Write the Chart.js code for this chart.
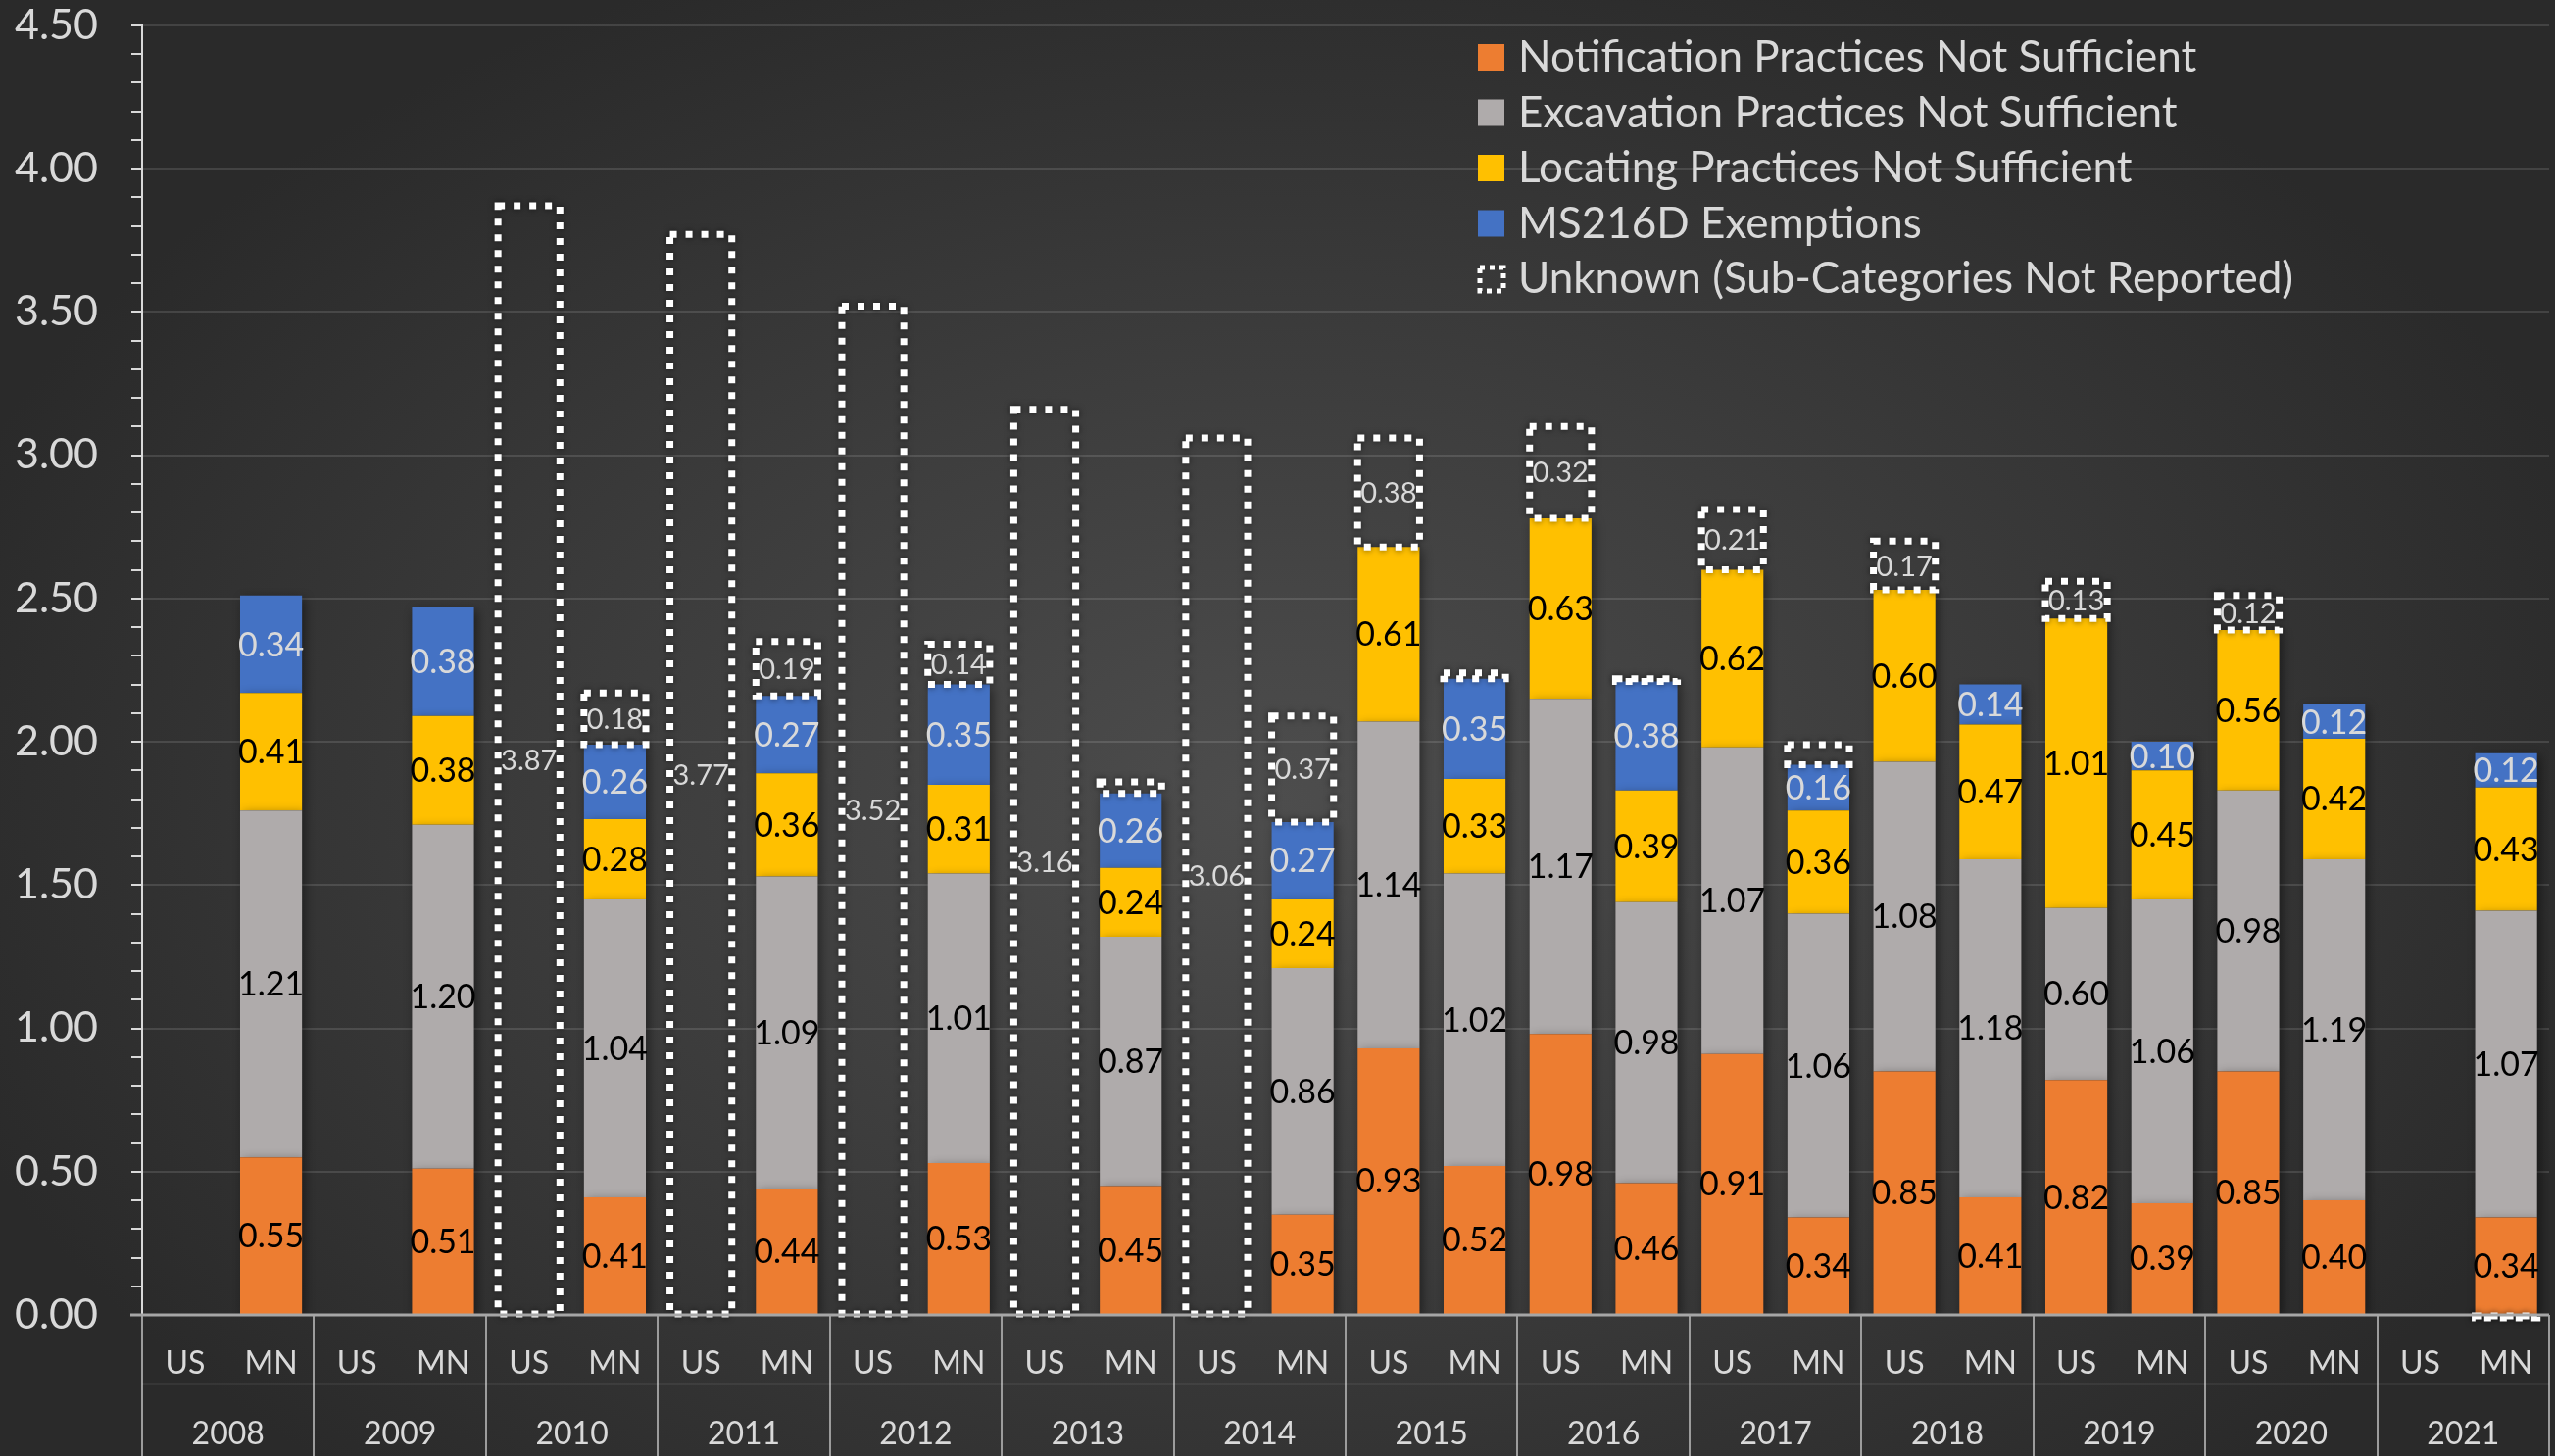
<!DOCTYPE html>
<html>
<head>
<meta charset="utf-8">
<title>Damage causes per 1,000 locates</title>
<script src="https://cdn.jsdelivr.net/npm/chart.js@4.4.0/dist/chart.umd.min.js"></script>
<style>
  html, body { margin: 0; padding: 0; }
  body {
    width: 2607px; height: 1486px; overflow: hidden;
    background: radial-gradient(ellipse 55% 62% at 50% 55%, #4d4d4d 0%, #3c3c3c 50%, #2a2a2a 100%);
  }
  #wrap { position: relative; width: 2607px; height: 1486px; }
</style>
</head>
<body>
<div id="wrap"><canvas id="myChart"></canvas></div>
<script>
// categories
const years = ['2008', '2009', '2010', '2011', '2012', '2013', '2014',
               '2015', '2016', '2017', '2018', '2019', '2020', '2021'];
const regions = ['US', 'MN'];

// series values, one entry per year
const notificationUS = [null, null, null, null, null, null, null, 0.93, 0.98, 0.91, 0.85, 0.82, 0.85, null];
const notificationMN = [0.55, 0.51, 0.41, 0.44, 0.53, 0.45, 0.35, 0.52, 0.46, 0.34, 0.41, 0.39, 0.40, 0.34];
const excavationUS   = [null, null, null, null, null, null, null, 1.14, 1.17, 1.07, 1.08, 0.60, 0.98, null];
const excavationMN   = [1.21, 1.20, 1.04, 1.09, 1.01, 0.87, 0.86, 1.02, 0.98, 1.06, 1.18, 1.06, 1.19, 1.07];
const locatingUS     = [null, null, null, null, null, null, null, 0.61, 0.63, 0.62, 0.60, 1.01, 0.56, null];
const locatingMN     = [0.41, 0.38, 0.28, 0.36, 0.31, 0.24, 0.24, 0.33, 0.39, 0.36, 0.47, 0.45, 0.42, 0.43];
const exemptionsUS   = [null, null, null, null, null, null, null, null, null, null, null, null, null, null];
const exemptionsMN   = [0.34, 0.38, 0.26, 0.27, 0.35, 0.26, 0.27, 0.35, 0.38, 0.16, 0.14, 0.10, 0.12, 0.12];
const unknownUS      = [null, null, 3.87, 3.77, 3.52, 3.16, 3.06, 0.38, 0.32, 0.21, 0.17, 0.13, 0.12, null];
const unknownMN      = [null, null, 0.18, 0.19, 0.14, 0.04, 0.37, 0.02, 0.01, 0.07, null, null, null, -0.01];

// y axis
const yMin = 0;
const yMax = 4.5;
const yMajorStep = 0.5;
const yMinorStep = 0.1;

const FONT = 'Lato, "Open Sans", sans-serif';
const TEXT = '#d9d9d9';

// US, MN, US, MN ... along the x axis
const labels = [];
years.forEach(() => regions.forEach(r => labels.push(r)));
const pair = (us, mn) => {
  const out = [];
  years.forEach((y, i) => { out.push(us[i]); out.push(mn[i]); });
  return out;
};

const isMajor = v => Math.abs(v / yMajorStep - Math.round(v / yMajorStep)) < 1e-6;

const datasets = [
  { label: 'Notification Practices Not Sufficient', data: pair(notificationUS, notificationMN), backgroundColor: '#ed7d31', textColor: '#000' },
  { label: 'Excavation Practices Not Sufficient', data: pair(excavationUS, excavationMN), backgroundColor: '#afabab', textColor: '#000' },
  { label: 'Locating Practices Not Sufficient', data: pair(locatingUS, locatingMN), backgroundColor: '#ffc000', textColor: '#000' },
  { label: 'MS216D Exemptions', data: pair(exemptionsUS, exemptionsMN), backgroundColor: '#4472c4', textColor: TEXT },
  { label: 'Unknown (Sub-Categories Not Reported)', data: pair(unknownUS, unknownMN), backgroundColor: 'rgba(0,0,0,0)', textColor: TEXT, dashed: true, small: true }
];
datasets.forEach(d => { d.stack = 'all'; d.borderWidth = 0; d.categoryPercentage = 1; d.barPercentage = 0.72; });

// soft shadow under the bars, like the office chart style
const barShadow = {
  id: 'barShadow',
  beforeDatasetsDraw(chart) {
    const ctx = chart.ctx;
    ctx.save();
    ctx.shadowColor = 'rgba(0,0,0,0.45)';
    ctx.shadowBlur = 10;
    ctx.shadowOffsetX = 3;
    ctx.shadowOffsetY = 3;
  },
  afterDatasetsDraw(chart) {
    chart.ctx.restore();
  }
};

// dashed outline for unknown + value labels in the middle of each segment
const segmentLabels = {
  id: 'segmentLabels',
  afterDatasetsDraw(chart) {
    const ctx = chart.ctx;
    ctx.save();
    chart.data.datasets.forEach((ds, di) => {
      if (!ds.dashed) return;
      const meta = chart.getDatasetMeta(di);
      meta.data.forEach((bar, i) => {
        if (ds.data[i] == null) return;
        const p = bar.getProps(['x', 'y', 'base', 'width'], true);
        ctx.shadowColor = 'rgba(0,0,0,0.6)';
        ctx.shadowBlur = 6;
        ctx.strokeStyle = '#ffffff';
        ctx.lineWidth = 7;
        ctx.setLineDash([7, 9]);
        ctx.strokeRect(p.x - p.width / 2, p.y, p.width, p.base - p.y);
      });
    });
    ctx.restore();

    ctx.save();
    ctx.textAlign = 'center';
    ctx.textBaseline = 'middle';
    chart.data.datasets.forEach((ds, di) => {
      const meta = chart.getDatasetMeta(di);
      ctx.font = (ds.small ? 29 : 34) + 'px ' + FONT;
      ctx.fillStyle = ds.textColor;
      meta.data.forEach((bar, i) => {
        const v = ds.data[i];
        if (v == null || Math.abs(v) < 0.1) return;
        const p = bar.getProps(['x', 'y', 'base'], true);
        ctx.fillText(v.toFixed(2), p.x, (p.y + p.base) / 2 + 1);
      });
    });
    ctx.restore();
  }
};

// year separators under the axis and the 0 baseline
const yearDividers = {
  id: 'yearDividers',
  afterDraw(chart) {
    const { ctx, chartArea, scales } = chart;
    const x = scales.x;
    const step = x.getPixelForValue(1) - x.getPixelForValue(0);
    const left = x.getPixelForValue(0) - step / 2;
    ctx.save();
    ctx.strokeStyle = '#9c9c9c';
    ctx.lineWidth = 2;
    for (let i = 0; i <= years.length; i++) {
      const px = Math.round(left + i * regions.length * step);
      ctx.beginPath();
      ctx.moveTo(px, chartArea.bottom);
      ctx.lineTo(px, chart.height);
      ctx.stroke();
    }
    ctx.strokeStyle = 'rgba(255,255,255,0.06)';
    ctx.beginPath();
    ctx.moveTo(left, chartArea.bottom + 71);
    ctx.lineTo(left + labels.length * step, chartArea.bottom + 71);
    ctx.stroke();
    ctx.strokeStyle = '#a6a6a6';
    ctx.lineWidth = 3;
    ctx.beginPath();
    ctx.moveTo(chartArea.left - 12, chartArea.bottom);
    ctx.lineTo(chartArea.right, chartArea.bottom);
    ctx.stroke();
    ctx.restore();
  }
};

// legend drawn inside the plot, top right
const cornerLegend = {
  id: 'cornerLegend',
  afterDraw(chart) {
    const ctx = chart.ctx;
    ctx.save();
    ctx.font = '44px ' + FONT;
    ctx.textBaseline = 'middle';
    ctx.textAlign = 'left';
    chart.data.datasets.forEach((ds, i) => {
      const cy = 58 + i * 56.5;
      if (ds.dashed) {
        ctx.strokeStyle = '#ffffff';
        ctx.lineWidth = 5;
        ctx.setLineDash([5, 5]);
        ctx.strokeRect(1510, cy - 11, 24, 24);
        ctx.setLineDash([]);
      } else {
        ctx.fillStyle = ds.backgroundColor;
        ctx.fillRect(1508, cy - 13, 27, 27);
      }
      ctx.fillStyle = TEXT;
      ctx.fillText(ds.label, 1549, cy + 1);
    });
    ctx.restore();
  }
};

new Chart(document.getElementById('myChart').getContext('2d'), {
  type: 'bar',
  data: { labels: labels, datasets: datasets },
  options: {
    responsive: true,
    maintainAspectRatio: false,
    animation: false,
    devicePixelRatio: 1,
    layout: { padding: { left: 15, top: 0, right: 6, bottom: 0 } },
    plugins: {
      legend: { display: false },
      tooltip: { enabled: false }
    },
    scales: {
      x: {
        stacked: true,
        offset: true,
        weight: 0,
        afterFit(s) { s.height = 89; },
        grid: { display: false },
        border: { display: false },
        ticks: { color: TEXT, font: { family: FONT, size: 32 }, padding: 22, maxRotation: 0, autoSkip: false }
      },
      x2: {
        type: 'category',
        labels: years,
        position: 'bottom',
        offset: true,
        weight: 1,
        afterFit(s) { s.height = 55; },
        grid: { display: false },
        border: { display: false },
        ticks: { color: TEXT, font: { family: FONT, size: 32 }, padding: 5, maxRotation: 0, autoSkip: false }
      },
      y: {
        stacked: true,
        min: yMin,
        max: yMax,
        afterFit(s) { s.width = 130; },
        border: { color: TEXT, width: 2 },
        grid: {
          color: c => isMajor(c.tick.value) ? 'rgba(255,255,255,0.12)' : 'rgba(0,0,0,0)',
          lineWidth: 2,
          tickColor: TEXT,
          tickLength: 11,
          tickWidth: 2
        },
        ticks: {
          stepSize: yMinorStep,
          maxTicksLimit: 100,
          autoSkip: false,
          padding: 0,
          crossAlign: 'far',
          color: TEXT,
          font: { family: FONT, size: 43 },
          callback: v => isMajor(v) ? v.toFixed(2) : ''
        }
      }
    }
  },
  plugins: [barShadow, segmentLabels, yearDividers, cornerLegend]
});
</script>
</body>
</html>
